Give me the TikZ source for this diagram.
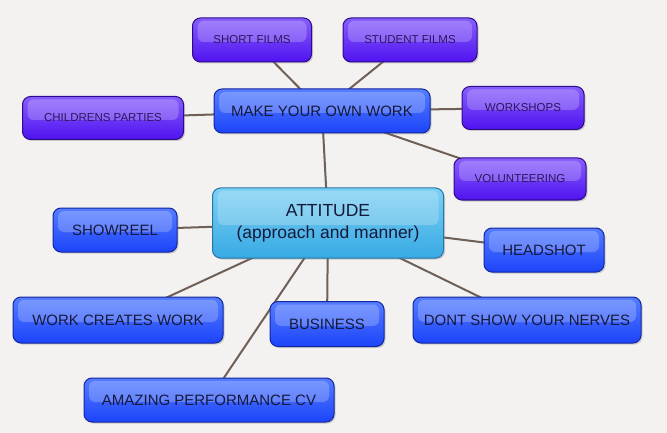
\documentclass[tikz,border=0pt]{standalone}
\usepackage{fontspec}
\setmainfont{Liberation Sans}
\usetikzlibrary{shadows}
\definecolor{bgcol}{RGB}{243,242,240}
\definecolor{linkcol}{RGB}{110,96,86}
\definecolor{violet1}{RGB}{135,95,252}
\definecolor{violet2}{RGB}{80,18,240}
\definecolor{violetline}{RGB}{45,10,140}
\definecolor{blue1}{RGB}{85,125,255}
\definecolor{blue2}{RGB}{28,68,250}
\definecolor{blueline}{RGB}{20,38,160}
\definecolor{sky1}{RGB}{125,208,242}
\definecolor{sky2}{RGB}{55,170,228}
\definecolor{skyline}{RGB}{38,118,168}
\definecolor{inkviolet}{RGB}{45,20,95}
\definecolor{inkblue}{RGB}{20,25,60}
\pgfdeclarelayer{bg}
\pgfdeclarelayer{links}
\pgfsetlayers{bg,links,main}
\begin{document}
\begin{tikzpicture}[x=1pt, y=-1pt,
    box/.style={rounded corners=8pt, line width=1pt, minimum height=44pt, inner sep=2pt,
      drop shadow={shadow xshift=1.5pt, shadow yshift=-1.5pt, opacity=0.35},
      path picture={\fill[white, opacity=0.22, rounded corners=6pt]
        ([xshift=5pt, yshift=-3pt]path picture bounding box.north west) rectangle
        ([xshift=-5pt, yshift=-2pt]path picture bounding box.east);}},
    violetbox/.style={box, top color=violet1, bottom color=violet2, draw=violetline,
      text=inkviolet, font=\fontsize{11.5}{13}\selectfont},
    bluebox/.style={box, top color=blue1, bottom color=blue2, draw=blueline,
      text=inkblue, font=\fontsize{15}{17}\selectfont},
    hubbox/.style={box, top color=sky1, bottom color=sky2, draw=skyline,
      text=inkblue, font=\fontsize{17.5}{22}\selectfont, align=center, minimum height=70pt},
    link/.style={draw=linkcol, line width=2pt}]
  \begin{pgfonlayer}{bg}
    \fill[bgcol] (0,0) rectangle (667,433);
  \end{pgfonlayer}
  \useasboundingbox (0,0) rectangle (667,433);

  % centre and first ring
  \node[hubbox, minimum width=231pt] (attitude) at (328,223) {ATTITUDE\\(approach and manner)};
  \node[bluebox, minimum width=216pt] (ownwork) at (322,111) {MAKE YOUR OWN WORK};

  % around the own work box
  \node[violetbox, minimum width=119pt] (short) at (252,40) {SHORT FILMS};
  \node[violetbox, minimum width=134pt] (student) at (410,40) {STUDENT FILMS};
  \node[violetbox, minimum width=161pt, minimum height=43pt] (parties) at (103,118) {CHILDRENS PARTIES};
  \node[violetbox, minimum width=122pt, minimum height=43pt] (workshops) at (523,108) {WORKSHOPS};
  \node[violetbox, minimum width=132pt, minimum height=42pt] (volunteer) at (520,179) {VOLUNTEERING};

  % around the attitude box
  \node[bluebox, minimum width=124pt] (showreel) at (115,230) {SHOWREEL};
  \node[bluebox, minimum width=120pt] (headshot) at (544,250) {HEADSHOT};
  \node[bluebox, minimum width=210pt, minimum height=46pt] (workwork) at (118,320) {WORK CREATES WORK};
  \node[bluebox, minimum width=114pt, minimum height=45pt] (business) at (327,324) {BUSINESS};
  \node[bluebox, minimum width=228pt, minimum height=46pt] (nerves) at (527,320) {DONT SHOW YOUR NERVES};
  \node[bluebox, minimum width=250pt] (cv) at (209,400) {AMAZING PERFORMANCE CV};

  \begin{pgfonlayer}{links}
    \foreach \leaf in {short,student,parties,workshops,volunteer,attitude}
      \draw[link] (ownwork.center) -- (\leaf.center);
    \foreach \leaf in {showreel,headshot,workwork,business,nerves,cv}
      \draw[link] (attitude.center) -- (\leaf.center);
  \end{pgfonlayer}
\end{tikzpicture}
\end{document}
